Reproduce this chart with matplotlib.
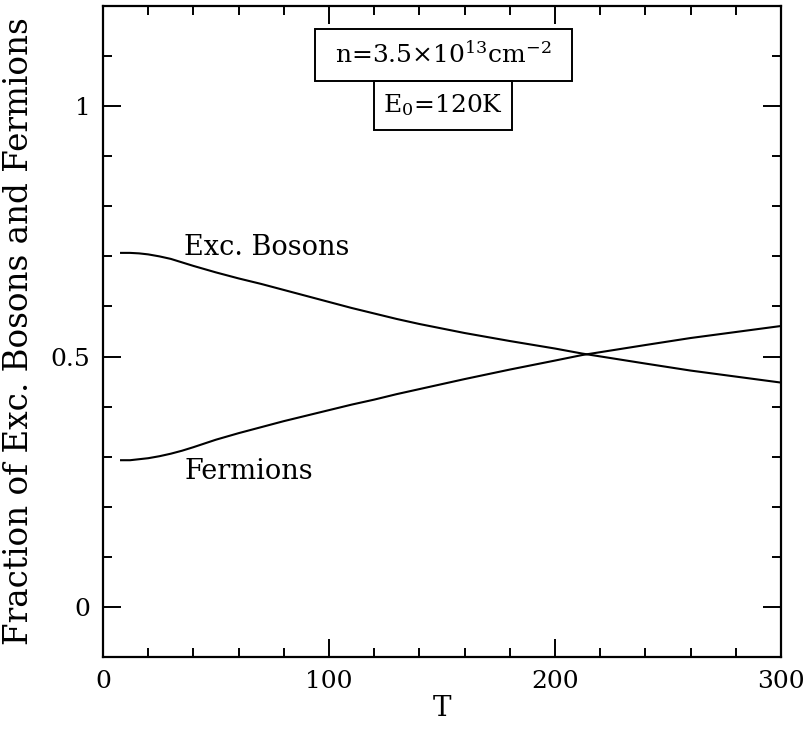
import matplotlib
matplotlib.use("Agg")
import matplotlib.pyplot as plt
from matplotlib.patches import Rectangle
from matplotlib.ticker import MultipleLocator, FixedLocator

# Data
T_bosons = [8, 12, 16, 20, 25, 30, 35, 40, 50, 60, 70, 80, 90, 100, 110, 120, 130, 140, 150,
            160, 180, 200, 212, 240, 260, 280, 300]
bosons = [0.707, 0.707, 0.706, 0.704, 0.700, 0.695, 0.688, 0.681, 0.668, 0.656, 0.645,
          0.633, 0.621, 0.609, 0.597, 0.586, 0.575, 0.565, 0.556,
          0.547, 0.531, 0.516, 0.506, 0.486, 0.472, 0.460, 0.448]
T_fermions = [8, 12, 16, 20, 25, 30, 35, 40, 50, 60, 70, 80, 90, 100, 110, 120, 130, 140, 150,
              160, 180, 200, 212, 240, 260, 280, 300]
fermions = [0.293, 0.293, 0.295, 0.297, 0.301, 0.306, 0.312, 0.319, 0.334, 0.347, 0.359,
            0.371, 0.382, 0.393, 0.404, 0.414, 0.425, 0.435, 0.445,
            0.455, 0.474, 0.492, 0.503, 0.523, 0.537, 0.549, 0.561]

xticks = [0, 100, 200, 300]
yticks = [0, 0.5, 1]
ytick_labels = ["0", "0.5", "1"]
box1_text = r"n=3.5$\times$10$^{13}$cm$^{-2}$"
box2_text = r"E$_0$=120K"

plt.rcParams['font.family'] = ['DejaVu Serif']
plt.rcParams['mathtext.fontset'] = 'dejavuserif'

fig = plt.figure(figsize=(8.09, 7.31), dpi=100)
ax = fig.add_axes([0.1273, 0.1012, 0.8381, 0.8906])

ax.plot(T_bosons, bosons, color='black', lw=1.5)
ax.plot(T_fermions, fermions, color='black', lw=1.5)

ax.set_xlim(0, 300)
ax.set_ylim(-0.1, 1.2)
ax.xaxis.set_major_locator(FixedLocator(xticks))
ax.xaxis.set_minor_locator(MultipleLocator(20))
ax.yaxis.set_major_locator(FixedLocator(yticks))
ax.set_yticklabels(ytick_labels)
ax.yaxis.set_minor_locator(MultipleLocator(0.1))

ax.tick_params(which='both', direction='in', top=True, right=True, width=1.4)
ax.tick_params(which='major', length=13, labelsize=18, pad=9)
ax.tick_params(which='minor', length=6.5)
for s in ax.spines.values():
    s.set_linewidth(1.6)

ax.set_xlabel("T", fontsize=20, labelpad=2)
ax.set_ylabel("Fraction of Exc. Bosons and Fermions", fontsize=23.5, labelpad=11)

ax.text(36, 0.717, "Exc. Bosons", fontsize=19.5, ha='left', va='center')
ax.text(36, 0.27, "Fermions", fontsize=19.5, ha='left', va='center')

# boxed annotations
ax.add_patch(Rectangle((93.7, 1.05), 114.0, 0.105, fill=False, lw=1.4, ec='black', zorder=5))
ax.add_patch(Rectangle((120.0, 0.953), 60.8, 0.097, fill=False, lw=1.4, ec='black', zorder=5))
ax.text(150.7, 1.1025, box1_text, fontsize=18, ha='center', va='center')
ax.text(150.4, 1.0015, box2_text, fontsize=18, ha='center', va='center')

fig.savefig("out.png", dpi=100)
